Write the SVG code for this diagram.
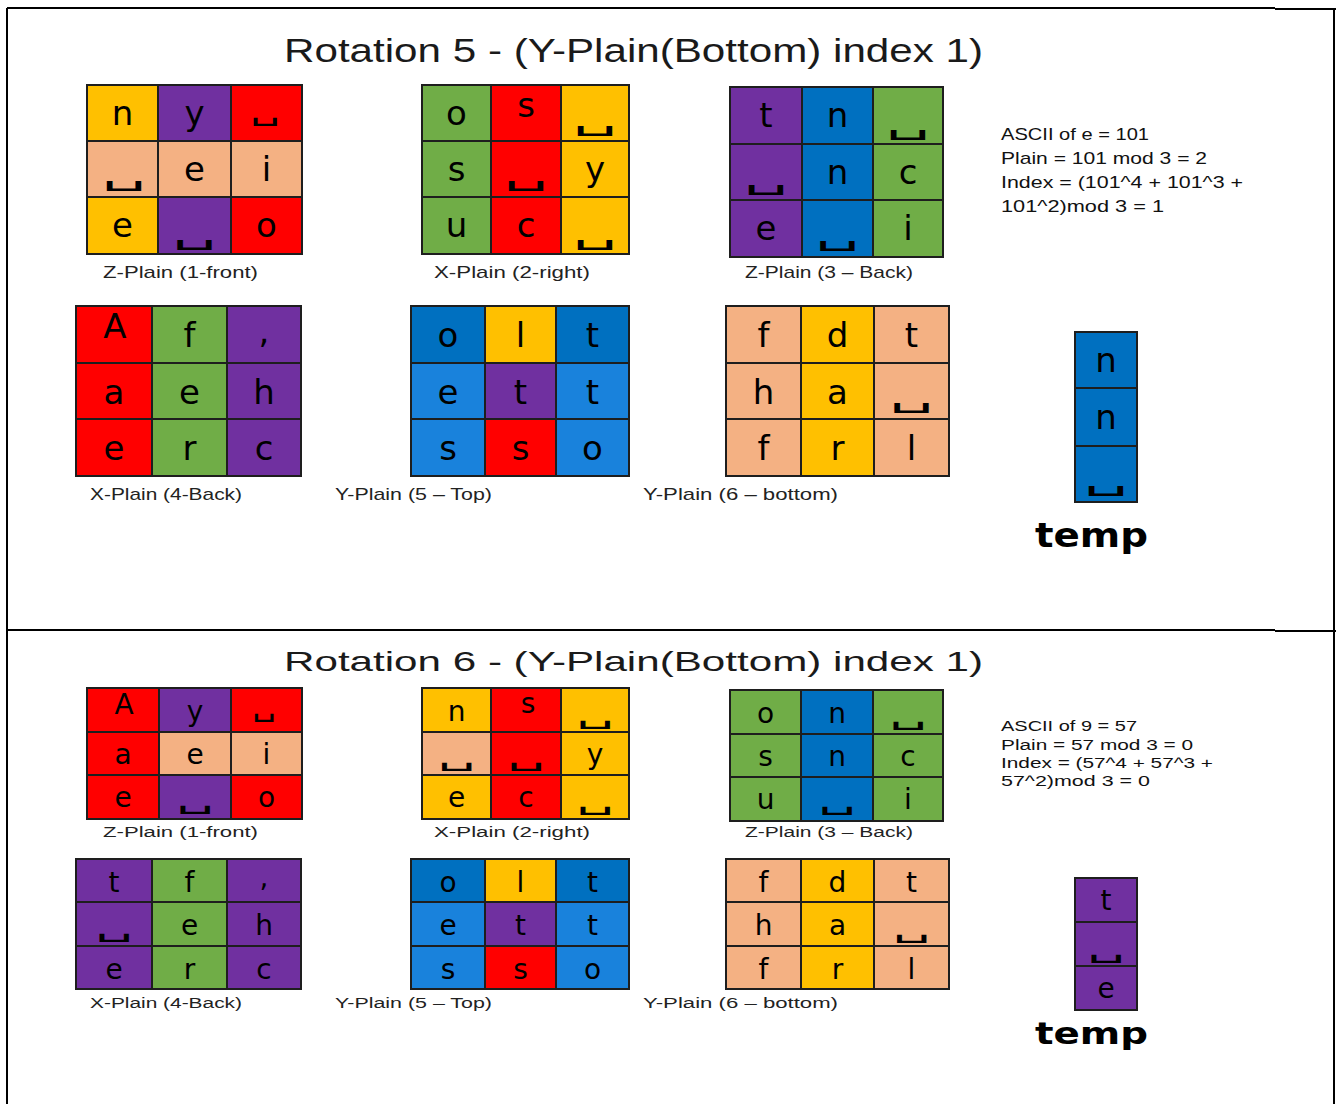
<svg xmlns="http://www.w3.org/2000/svg" width="1336" height="1104" viewBox="0 0 1336 1104">
<style>
.cy{fill:#FFC000}.cp{fill:#7030A0}.cr{fill:#FF0000}.ck{fill:#F4B183}.cg{fill:#70AD47}.cb{fill:#0070C0}.cl{fill:#1982DC}
.gl{fill:none;stroke:#1e1e1e;stroke-width:2}
.frame{fill:none;stroke:#000;stroke-width:2}
.a{font-family:"DejaVu Sans",Verdana,sans-serif;font-size:34px;text-anchor:middle;fill:#000}
.b{font-family:"DejaVu Sans",Verdana,sans-serif;font-size:28px;text-anchor:middle;fill:#000}
.s1{font-family:"DejaVu Sans",sans-serif;font-size:30px;text-anchor:middle;fill:#000}
.s2{font-family:"DejaVu Sans",sans-serif;font-size:25px;text-anchor:middle;fill:#000}
.cap1{font-family:"Liberation Sans",Arial,sans-serif;font-size:17px;fill:#222}
.cap2{font-family:"Liberation Sans",Arial,sans-serif;font-size:14px;fill:#222}
.title{font-family:"Liberation Sans",Arial,sans-serif;fill:#1a1a1a}
.info1{font-family:"Liberation Sans",Arial,sans-serif;font-size:17px;fill:#111}
.info2{font-family:"Liberation Sans",Arial,sans-serif;font-size:14px;fill:#111}
.temp{font-family:"DejaVu Sans",Verdana,sans-serif;font-weight:bold;fill:#000}
</style>
<rect width="1336" height="1104" fill="#fff"/>
<g id="frame">
<path class="frame" d="M7 8H1275 M1275 9H1336 M7 8V1104 M1334 8V1104 M7 630H1275 M1275 631H1336"/>
</g>

<!-- ================= Rotation 5 ================= -->
<text class="title" x="284" y="62" font-size="34" textLength="699" lengthAdjust="spacingAndGlyphs">Rotation 5 - (Y-Plain(Bottom) index 1)</text>

<g id="r5-z1-front">
<rect class="cy" x="87" y="85" width="71" height="56"/><rect class="cp" x="158" y="85" width="73" height="56"/><rect class="cr" x="231" y="85" width="71" height="56"/>
<rect class="ck" x="87" y="141" width="71" height="56"/><rect class="ck" x="158" y="141" width="73" height="56"/><rect class="ck" x="231" y="141" width="71" height="56"/>
<rect class="cy" x="87" y="197" width="71" height="57"/><rect class="cp" x="158" y="197" width="73" height="57"/><rect class="cr" x="231" y="197" width="71" height="57"/>
<path class="gl" d="M87 85H302V254H87Z M158 85V254 M231 85V254 M87 141H302 M87 197H302"/>
<text class="a" x="122.5" y="125">n</text><text class="a" x="194.5" y="125">y</text><text class="s2" x="265" y="120" font-size="20" textLength="30" lengthAdjust="spacingAndGlyphs">␣</text>
<text class="s1" x="124" y="184" textLength="44" lengthAdjust="spacingAndGlyphs">␣</text><text class="a" x="194.5" y="181">e</text><text class="a" x="266.5" y="181">i</text>
<text class="a" x="122.5" y="237">e</text><text class="s1" x="194.5" y="243" textLength="44" lengthAdjust="spacingAndGlyphs">␣</text><text class="a" x="266.5" y="237">o</text>
<text class="cap1" x="103" y="278" textLength="155" lengthAdjust="spacingAndGlyphs">Z-Plain (1-front)</text>
</g>

<g id="r5-x2-right">
<rect class="cg" x="422" y="85" width="69" height="56"/><rect class="cr" x="491" y="85" width="70" height="56"/><rect class="cy" x="561" y="85" width="68" height="56"/>
<rect class="cg" x="422" y="141" width="69" height="56"/><rect class="cr" x="491" y="141" width="70" height="56"/><rect class="cy" x="561" y="141" width="68" height="56"/>
<rect class="cg" x="422" y="197" width="69" height="57"/><rect class="cr" x="491" y="197" width="70" height="57"/><rect class="cy" x="561" y="197" width="68" height="57"/>
<path class="gl" d="M422 85H629V254H422Z M491 85V254 M561 85V254 M422 141H629 M422 197H629"/>
<text class="a" x="456.5" y="125">o</text><text class="a" x="526" y="117" font-size="22">s</text><text class="s1" x="595" y="129" textLength="44" lengthAdjust="spacingAndGlyphs">␣</text>
<text class="a" x="456.5" y="181">s</text><text class="s1" x="526" y="184" textLength="44" lengthAdjust="spacingAndGlyphs">␣</text><text class="a" x="595" y="181">y</text>
<text class="a" x="456.5" y="237">u</text><text class="a" x="526" y="237">c</text><text class="s1" x="595" y="243" textLength="44" lengthAdjust="spacingAndGlyphs">␣</text>
<text class="cap1" x="434" y="278" textLength="156" lengthAdjust="spacingAndGlyphs">X-Plain (2-right)</text>
</g>

<g id="r5-z3-back">
<rect class="cp" x="730" y="87" width="72" height="57"/><rect class="cb" x="802" y="87" width="71" height="57"/><rect class="cg" x="873" y="87" width="70" height="57"/>
<rect class="cp" x="730" y="144" width="72" height="56"/><rect class="cb" x="802" y="144" width="71" height="56"/><rect class="cg" x="873" y="144" width="70" height="56"/>
<rect class="cp" x="730" y="200" width="72" height="57"/><rect class="cb" x="802" y="200" width="71" height="57"/><rect class="cg" x="873" y="200" width="70" height="57"/>
<path class="gl" d="M730 87H943V257H730Z M802 87V257 M873 87V257 M730 144H943 M730 200H943"/>
<text class="a" x="766" y="127">t</text><text class="a" x="837.5" y="127">n</text><text class="s1" x="908" y="133" textLength="44" lengthAdjust="spacingAndGlyphs">␣</text>
<text class="s1" x="766" y="188" textLength="44" lengthAdjust="spacingAndGlyphs">␣</text><text class="a" x="837.5" y="184">n</text><text class="a" x="908" y="184">c</text>
<text class="a" x="766" y="240">e</text><text class="s1" x="837.5" y="244" textLength="44" lengthAdjust="spacingAndGlyphs">␣</text><text class="a" x="908" y="240">i</text>
<text class="cap1" x="745" y="278" textLength="168" lengthAdjust="spacingAndGlyphs">Z-Plain (3 – Back)</text>
</g>

<g id="r5-info">
<text class="info1" x="1001" y="140" textLength="148" lengthAdjust="spacingAndGlyphs">ASCII of e = 101</text>
<text class="info1" x="1001" y="164" textLength="206" lengthAdjust="spacingAndGlyphs">Plain = 101 mod 3 = 2</text>
<text class="info1" x="1001" y="188" textLength="242" lengthAdjust="spacingAndGlyphs">Index = (101^4 + 101^3 +</text>
<text class="info1" x="1001" y="212" textLength="163" lengthAdjust="spacingAndGlyphs">101^2)mod 3 = 1</text>
</g>

<g id="r5-x4-back">
<rect class="cr" x="76" y="306" width="76" height="57"/><rect class="cg" x="152" y="306" width="75" height="57"/><rect class="cp" x="227" y="306" width="74" height="57"/>
<rect class="cr" x="76" y="363" width="76" height="56"/><rect class="cg" x="152" y="363" width="75" height="56"/><rect class="cp" x="227" y="363" width="74" height="56"/>
<rect class="cr" x="76" y="419" width="76" height="57"/><rect class="cg" x="152" y="419" width="75" height="57"/><rect class="cp" x="227" y="419" width="74" height="57"/>
<path class="gl" d="M76 306H301V476H76Z M152 306V476 M227 306V476 M76 363H301 M76 419H301"/>
<text class="a" x="115" y="338" font-size="21">A</text><text class="a" x="189.5" y="347">f</text><text class="a" x="264" y="343">,</text>
<text class="a" x="114" y="404">a</text><text class="a" x="189.5" y="404">e</text><text class="a" x="264" y="404">h</text>
<text class="a" x="114" y="460">e</text><text class="a" x="189.5" y="460">r</text><text class="a" x="264" y="460">c</text>
<text class="cap1" x="90" y="500" textLength="152" lengthAdjust="spacingAndGlyphs">X-Plain (4-Back)</text>
</g>

<g id="r5-y5-top">
<rect class="cb" x="411" y="306" width="74" height="57"/><rect class="cy" x="485" y="306" width="71" height="57"/><rect class="cb" x="556" y="306" width="73" height="57"/>
<rect class="cl" x="411" y="363" width="74" height="56"/><rect class="cp" x="485" y="363" width="71" height="56"/><rect class="cl" x="556" y="363" width="73" height="56"/>
<rect class="cl" x="411" y="419" width="74" height="57"/><rect class="cr" x="485" y="419" width="71" height="57"/><rect class="cl" x="556" y="419" width="73" height="57"/>
<path class="gl" d="M411 306H629V476H411Z M485 306V476 M556 306V476 M411 363H629 M411 419H629"/>
<text class="a" x="448" y="347">o</text><text class="a" x="520.5" y="347">l</text><text class="a" x="592.5" y="347">t</text>
<text class="a" x="448" y="404">e</text><text class="a" x="520.5" y="404">t</text><text class="a" x="592.5" y="404">t</text>
<text class="a" x="448" y="460">s</text><text class="a" x="520.5" y="460">s</text><text class="a" x="592.5" y="460">o</text>
<text class="cap1" x="335" y="500" textLength="157" lengthAdjust="spacingAndGlyphs">Y-Plain (5 – Top)</text>
</g>

<g id="r5-y6-bottom">
<rect class="ck" x="726" y="306" width="75" height="57"/><rect class="cy" x="801" y="306" width="73" height="57"/><rect class="ck" x="874" y="306" width="75" height="57"/>
<rect class="ck" x="726" y="363" width="75" height="56"/><rect class="cy" x="801" y="363" width="73" height="56"/><rect class="ck" x="874" y="363" width="75" height="56"/>
<rect class="ck" x="726" y="419" width="75" height="57"/><rect class="cy" x="801" y="419" width="73" height="57"/><rect class="ck" x="874" y="419" width="75" height="57"/>
<path class="gl" d="M726 306H949V476H726Z M801 306V476 M874 306V476 M726 363H949 M726 419H949"/>
<text class="a" x="763.5" y="347">f</text><text class="a" x="837.5" y="347">d</text><text class="a" x="911.5" y="347">t</text>
<text class="a" x="763.5" y="404">h</text><text class="a" x="837.5" y="404">a</text><text class="s1" x="911.5" y="406" textLength="44" lengthAdjust="spacingAndGlyphs">␣</text>
<text class="a" x="763.5" y="460">f</text><text class="a" x="837.5" y="460">r</text><text class="a" x="911.5" y="460">l</text>
<text class="cap1" x="643" y="500" textLength="195" lengthAdjust="spacingAndGlyphs">Y-Plain (6 – bottom)</text>
</g>

<g id="r5-temp">
<rect class="cb" x="1075" y="332" width="62" height="56"/><rect class="cb" x="1075" y="388" width="62" height="58"/><rect class="cb" x="1075" y="446" width="62" height="56"/>
<path class="gl" d="M1075 332H1137V502H1075Z M1075 388H1137 M1075 446H1137"/>
<text class="a" x="1106" y="372">n</text><text class="a" x="1106" y="429">n</text><text class="s1" x="1106" y="489" textLength="44" lengthAdjust="spacingAndGlyphs">␣</text>
<text class="temp" x="1035" y="547" font-size="34" textLength="113" lengthAdjust="spacingAndGlyphs">temp</text>
</g>

<!-- ================= Rotation 6 ================= -->
<text class="title" x="284" y="671" font-size="28" textLength="699" lengthAdjust="spacingAndGlyphs">Rotation 6 - (Y-Plain(Bottom) index 1)</text>

<g id="r6-z1-front">
<rect class="cr" x="87" y="688" width="72" height="44"/><rect class="cp" x="159" y="688" width="72" height="44"/><rect class="cr" x="231" y="688" width="71" height="44"/>
<rect class="cr" x="87" y="732" width="72" height="43"/><rect class="ck" x="159" y="732" width="72" height="43"/><rect class="ck" x="231" y="732" width="71" height="43"/>
<rect class="cr" x="87" y="775" width="72" height="44"/><rect class="cp" x="159" y="775" width="72" height="44"/><rect class="cr" x="231" y="775" width="71" height="44"/>
<path class="gl" d="M87 688H302V819H87Z M159 688V819 M231 688V819 M87 732H302 M87 775H302"/>
<text class="b" x="124" y="714" font-size="19">A</text><text class="b" x="195" y="721">y</text><text class="s2" x="264" y="716" font-size="17" textLength="24" lengthAdjust="spacingAndGlyphs">␣</text>
<text class="b" x="123" y="764">a</text><text class="b" x="195" y="764">e</text><text class="b" x="266.5" y="764">i</text>
<text class="b" x="123" y="807">e</text><text class="s2" x="195" y="808" textLength="38" lengthAdjust="spacingAndGlyphs">␣</text><text class="b" x="266.5" y="807">o</text>
<text class="cap2" x="103" y="837" textLength="155" lengthAdjust="spacingAndGlyphs">Z-Plain (1-front)</text>
</g>

<g id="r6-x2-right">
<rect class="cy" x="422" y="688" width="69" height="44"/><rect class="cr" x="491" y="688" width="70" height="44"/><rect class="cy" x="561" y="688" width="68" height="44"/>
<rect class="ck" x="422" y="732" width="69" height="43"/><rect class="cr" x="491" y="732" width="70" height="43"/><rect class="cy" x="561" y="732" width="68" height="43"/>
<rect class="cy" x="422" y="775" width="69" height="44"/><rect class="cr" x="491" y="775" width="70" height="44"/><rect class="cy" x="561" y="775" width="68" height="44"/>
<path class="gl" d="M422 688H629V819H422Z M491 688V819 M561 688V819 M422 732H629 M422 775H629"/>
<text class="b" x="456.5" y="721">n</text><text class="b" x="528" y="713" font-size="18">s</text><text class="s2" x="595" y="723" textLength="38" lengthAdjust="spacingAndGlyphs">␣</text>
<text class="s2" x="456.5" y="765" textLength="38" lengthAdjust="spacingAndGlyphs">␣</text><text class="s2" x="526" y="765" textLength="38" lengthAdjust="spacingAndGlyphs">␣</text><text class="b" x="595" y="764">y</text>
<text class="b" x="456.5" y="807">e</text><text class="b" x="526" y="807">c</text><text class="s2" x="595" y="809" textLength="38" lengthAdjust="spacingAndGlyphs">␣</text>
<text class="cap2" x="434" y="837" textLength="156" lengthAdjust="spacingAndGlyphs">X-Plain (2-right)</text>
</g>

<g id="r6-z3-back">
<rect class="cg" x="730" y="690" width="71" height="44"/><rect class="cb" x="801" y="690" width="72" height="44"/><rect class="cg" x="873" y="690" width="70" height="44"/>
<rect class="cg" x="730" y="734" width="71" height="43"/><rect class="cb" x="801" y="734" width="72" height="43"/><rect class="cg" x="873" y="734" width="70" height="43"/>
<rect class="cg" x="730" y="777" width="71" height="44"/><rect class="cb" x="801" y="777" width="72" height="44"/><rect class="cg" x="873" y="777" width="70" height="44"/>
<path class="gl" d="M730 690H943V821H730Z M801 690V821 M873 690V821 M730 734H943 M730 777H943"/>
<text class="b" x="765.5" y="723">o</text><text class="b" x="837" y="723">n</text><text class="s2" x="908" y="724" textLength="38" lengthAdjust="spacingAndGlyphs">␣</text>
<text class="b" x="765.5" y="766">s</text><text class="b" x="837" y="766">n</text><text class="b" x="908" y="766">c</text>
<text class="b" x="765.5" y="809">u</text><text class="s2" x="837" y="809" textLength="38" lengthAdjust="spacingAndGlyphs">␣</text><text class="b" x="908" y="809">i</text>
<text class="cap2" x="745" y="837" textLength="168" lengthAdjust="spacingAndGlyphs">Z-Plain (3 – Back)</text>
</g>

<g id="r6-info">
<text class="info2" x="1001" y="731" textLength="136" lengthAdjust="spacingAndGlyphs">ASCII of 9 = 57</text>
<text class="info2" x="1001" y="750" textLength="192" lengthAdjust="spacingAndGlyphs">Plain = 57 mod 3 = 0</text>
<text class="info2" x="1001" y="768" textLength="212" lengthAdjust="spacingAndGlyphs">Index = (57^4 + 57^3 +</text>
<text class="info2" x="1001" y="786" textLength="149" lengthAdjust="spacingAndGlyphs">57^2)mod 3 = 0</text>
</g>

<g id="r6-x4-back">
<rect class="cp" x="76" y="859" width="76" height="43"/><rect class="cg" x="152" y="859" width="75" height="43"/><rect class="cp" x="227" y="859" width="74" height="43"/>
<rect class="cp" x="76" y="902" width="76" height="44"/><rect class="cg" x="152" y="902" width="75" height="44"/><rect class="cp" x="227" y="902" width="74" height="44"/>
<rect class="cp" x="76" y="946" width="76" height="43"/><rect class="cg" x="152" y="946" width="75" height="43"/><rect class="cp" x="227" y="946" width="74" height="43"/>
<path class="gl" d="M76 859H301V989H76Z M152 859V989 M227 859V989 M76 902H301 M76 946H301"/>
<text class="b" x="114" y="892">t</text><text class="b" x="189.5" y="892">f</text><text class="b" x="264" y="887">,</text>
<text class="s2" x="114" y="936" textLength="38" lengthAdjust="spacingAndGlyphs">␣</text><text class="b" x="189.5" y="935">e</text><text class="b" x="264" y="935">h</text>
<text class="b" x="114" y="979">e</text><text class="b" x="189.5" y="979">r</text><text class="b" x="264" y="979">c</text>
<text class="cap2" x="90" y="1008" textLength="152" lengthAdjust="spacingAndGlyphs">X-Plain (4-Back)</text>
</g>

<g id="r6-y5-top">
<rect class="cb" x="411" y="859" width="74" height="43"/><rect class="cy" x="485" y="859" width="71" height="43"/><rect class="cb" x="556" y="859" width="73" height="43"/>
<rect class="cl" x="411" y="902" width="74" height="44"/><rect class="cp" x="485" y="902" width="71" height="44"/><rect class="cl" x="556" y="902" width="73" height="44"/>
<rect class="cl" x="411" y="946" width="74" height="43"/><rect class="cr" x="485" y="946" width="71" height="43"/><rect class="cl" x="556" y="946" width="73" height="43"/>
<path class="gl" d="M411 859H629V989H411Z M485 859V989 M556 859V989 M411 902H629 M411 946H629"/>
<text class="b" x="448" y="892">o</text><text class="b" x="520.5" y="892">l</text><text class="b" x="592.5" y="892">t</text>
<text class="b" x="448" y="935">e</text><text class="b" x="520.5" y="935">t</text><text class="b" x="592.5" y="935">t</text>
<text class="b" x="448" y="979">s</text><text class="b" x="520.5" y="979">s</text><text class="b" x="592.5" y="979">o</text>
<text class="cap2" x="335" y="1008" textLength="157" lengthAdjust="spacingAndGlyphs">Y-Plain (5 – Top)</text>
</g>

<g id="r6-y6-bottom">
<rect class="ck" x="726" y="859" width="75" height="43"/><rect class="cy" x="801" y="859" width="73" height="43"/><rect class="ck" x="874" y="859" width="75" height="43"/>
<rect class="ck" x="726" y="902" width="75" height="44"/><rect class="cy" x="801" y="902" width="73" height="44"/><rect class="ck" x="874" y="902" width="75" height="44"/>
<rect class="ck" x="726" y="946" width="75" height="43"/><rect class="cy" x="801" y="946" width="73" height="43"/><rect class="ck" x="874" y="946" width="75" height="43"/>
<path class="gl" d="M726 859H949V989H726Z M801 859V989 M874 859V989 M726 902H949 M726 946H949"/>
<text class="b" x="763.5" y="892">f</text><text class="b" x="837.5" y="892">d</text><text class="b" x="911.5" y="892">t</text>
<text class="b" x="763.5" y="935">h</text><text class="b" x="837.5" y="935">a</text><text class="s2" x="911.5" y="937" textLength="38" lengthAdjust="spacingAndGlyphs">␣</text>
<text class="b" x="763.5" y="979">f</text><text class="b" x="837.5" y="979">r</text><text class="b" x="911.5" y="979">l</text>
<text class="cap2" x="643" y="1008" textLength="195" lengthAdjust="spacingAndGlyphs">Y-Plain (6 – bottom)</text>
</g>

<g id="r6-temp">
<rect class="cp" x="1075" y="878" width="62" height="44"/><rect class="cp" x="1075" y="922" width="62" height="44"/><rect class="cp" x="1075" y="966" width="62" height="44"/>
<path class="gl" d="M1075 878H1137V1010H1075Z M1075 922H1137 M1075 966H1137"/>
<text class="b" x="1106" y="910">t</text><text class="s2" x="1106" y="957" textLength="38" lengthAdjust="spacingAndGlyphs">␣</text><text class="b" x="1106" y="998">e</text>
<text class="temp" x="1035" y="1044" font-size="30" textLength="113" lengthAdjust="spacingAndGlyphs">temp</text>
</g>
</svg>
